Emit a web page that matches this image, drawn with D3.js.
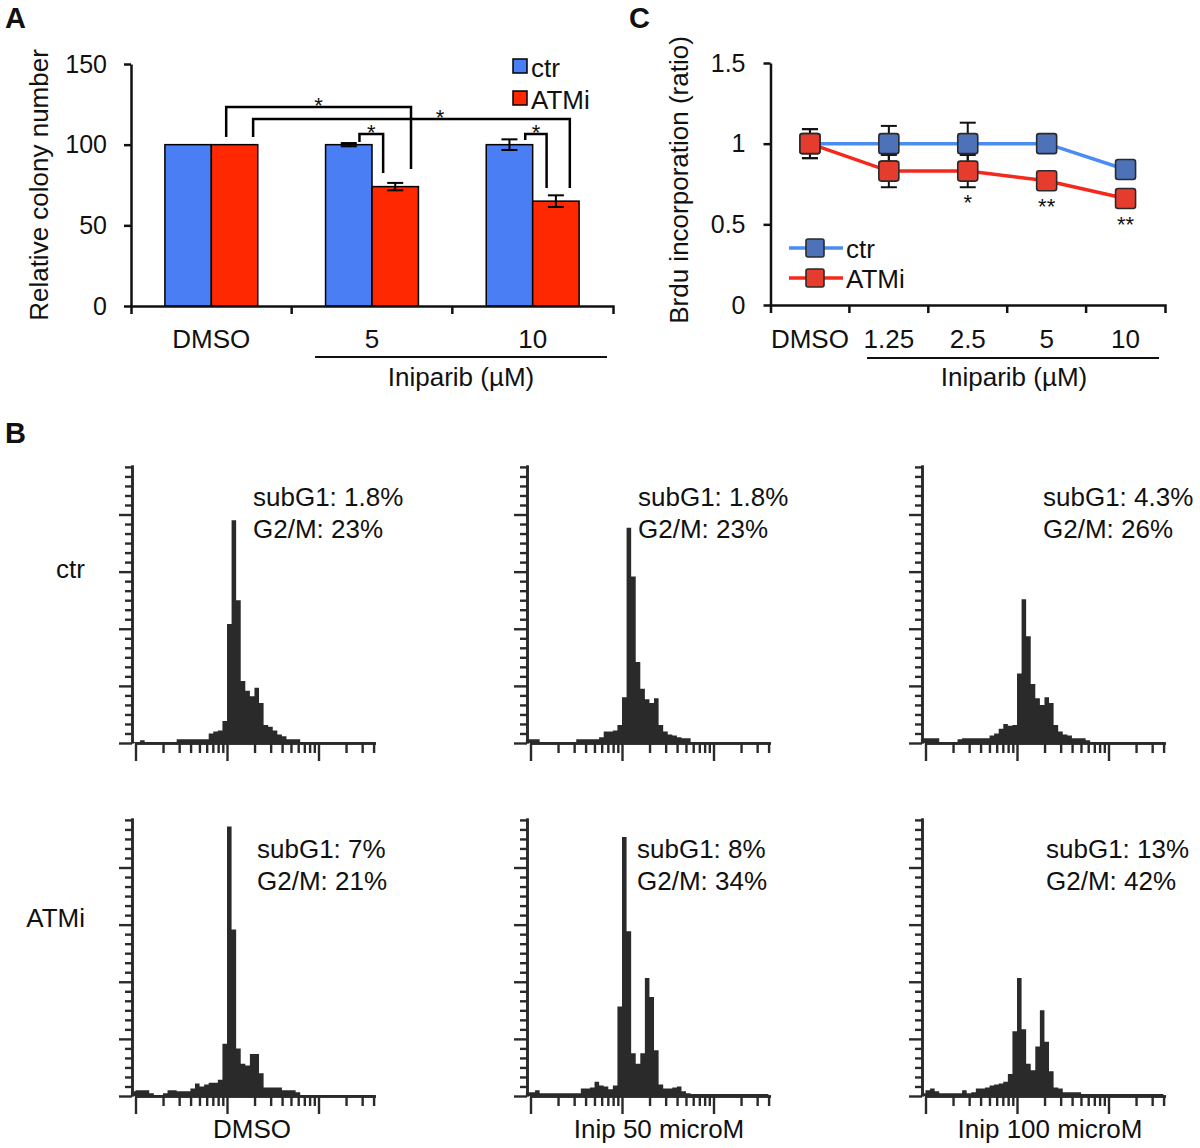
<!DOCTYPE html>
<html lang="en">
<head>
<meta charset="UTF-8">
<title>Iniparib and ATM inhibition</title>
<script src="https://cdn.jsdelivr.net/npm/d3@7"></script>
<style>
    body { margin: 0; background: #fff; }
    svg { display: block; background: #fff; }
</style>
</head>
<body>
<svg width="1200" height="1148"></svg>
<script>
    // ---- panel A: colony numbers ----
    const colonyGroups = ['DMSO', '5', '10'];
    const colonySeries = ['ctr', 'ATMi'];
    const colonyCtr = [100, 100, 100];
    const colonyCtrErr = [0, 1, 3.3];
    const colonyAtmi = [100, 74, 65];
    const colonyAtmiErr = [0, 2.3, 3.6];
    const colonyTicks = [0, 50, 100, 150];

    // ---- panel C: BrdU ----
    const brduDoses = ['DMSO', '1.25', '2.5', '5', '10'];
    const brduCtr = [1, 1, 1, 1, 0.84];
    const brduCtrErr = [0.09, 0.11, 0.13, 0.05, 0.02];
    const brduAtmi = [1, 0.83, 0.83, 0.77, 0.66];
    const brduAtmiErr = [0.09, 0.1, 0.1, 0.02, 0.02];
    const brduStars = ['', '', '*', '**', '**'];
    const brduTicks = [0, 0.5, 1, 1.5];

    // ---- panel B: cell cycle histograms ----
    const cycleRows = ['ctr', 'ATMi'];
    const cycleCols = ['DMSO', 'Inip 50 microM', 'Inip 100 microM'];
    const subG1 = [['1.8%', '1.8%', '4.3%'], ['7%', '8%', '13%']];
    const g2m = [['23%', '23%', '26%'], ['21%', '34%', '42%']];
    // counts per bin; bins are 0.05 decade wide, first bin starts at 10^-0.05
    const histCtrDmso = [1,1,3,1,1,1,1,1,1,1, 4,4,4,4,4,4,4,10,12,13, 23,125,234,150,65,55,49,58,42,19, 17,13,9,7,4,4,4,1,1,1, 1,1,1,1,1,1,1,1,1,1, 1,1,1];
    const histCtrInip50 = [4,4,4,1,1,1,1,1,1,1, 1,4,4,4,4,4,6,12,12,13, 19,48,226,175,85,57,46,42,47,19, 12,9,8,6,5,5,1,1,1,1, 1,1,1,1,1,1,1,1,1,1, 1,1,1];
    const histCtrInip100 = [5,5,5,5,1,1,1,1,4,5, 5,5,5,5,5,8,10,15,20,18, 19,73,151,112,62,47,40,48,42,19, 12,9,8,5,5,5,3,1,1,1, 1,1,1,1,1,1,1,1,1,1, 1,1,1];
    const histAtmiDmso = [5,6,6,6,3,1,1,3,6,6, 5,5,5,8,13,10,12,14,14,17, 55,283,175,50,34,32,44,44,24,9, 9,9,9,6,6,6,4,1,1,1, 1,1,1,1,1,1,1,1,1,1, 1,1,1];
    const histAtmiInip50 = [4,4,6,3,3,3,3,3,3,3, 3,3,8,8,9,15,11,10,7,11, 94,272,173,45,34,45,124,104,48,12, 8,8,9,10,5,3,2,2,2,2, 2,2,2,2,2,2,2,2,2,2, 2,2,2];
    const histAtmiInip100 = [3,6,8,5,3,3,3,3,3,6, 3,4,8,8,9,11,12,13,15,23, 68,124,70,34,27,52,90,57,26,9, 8,4,4,4,4,2,2,2,2,2, 2,2,2,2,2,2,2,2,2,2, 2,2,2];
    const binStart = -0.05;
    const binWidth = 0.05;

    const FONT = "'Liberation Sans', Arial, Helvetica, sans-serif";
    const INK = '#111';
    const svg = d3.select('svg').attr('font-family', FONT);

    function styleAxis(g, size) {
        g.attr('font-family', null).attr('font-size', null);
        g.select('.domain').attr('stroke', INK).attr('stroke-width', 2.5);
        g.selectAll('.tick line').attr('stroke', INK).attr('stroke-width', 2.5);
        g.selectAll('.tick text').attr('fill', INK).attr('font-size', size);
    }

    function text(g, x, y, str, size, anchor, weight) {
        return g.append('text')
            .attr('x', x).attr('y', y)
            .attr('font-size', size)
            .attr('text-anchor', anchor || 'start')
            .attr('font-weight', weight || 'normal')
            .attr('fill', INK)
            .text(str);
    }

    // panel letters
    text(svg, 5, 28, 'A', 29, 'start', 'bold');
    text(svg, 5, 443, 'B', 29, 'start', 'bold');
    text(svg, 629, 28, 'C', 29, 'start', 'bold');

    // ================= A =================
    const gA = svg.append('g');
    const aX = d3.scaleBand().domain(colonyGroups).range([131, 613]);
    const aSub = d3.scaleBand().domain(colonySeries).range([0, aX.bandwidth()]).paddingOuter(0.73);
    const aY = d3.scaleLinear().domain([0, 150]).range([306, 64]);
    const colonyColor = { ctr: '#4a7ef4', ATMi: '#ff2800' };

    const colonyRows = colonyGroups.map((g, i) => [
        { g: g, s: 'ctr', v: colonyCtr[i], e: colonyCtrErr[i] },
        { g: g, s: 'ATMi', v: colonyAtmi[i], e: colonyAtmiErr[i] }
    ]).flat();

    gA.selectAll('rect.bar')
        .data(colonyRows).enter().append('rect')
        .classed('bar', true)
        .attr('x', d => aX(d.g) + aSub(d.s))
        .attr('y', d => aY(d.v))
        .attr('width', aSub.bandwidth())
        .attr('height', d => aY(0) - aY(d.v))
        .attr('fill', d => colonyColor[d.s])
        .attr('stroke', '#000')
        .attr('stroke-width', 1.5);

    const errA = gA.selectAll('g.err')
        .data(colonyRows.filter(d => d.e > 0)).enter().append('g')
        .attr('stroke', '#000').attr('stroke-width', 2);
    errA.append('line')
        .attr('x1', d => aX(d.g) + aSub(d.s) + aSub.bandwidth() / 2)
        .attr('x2', d => aX(d.g) + aSub(d.s) + aSub.bandwidth() / 2)
        .attr('y1', d => aY(d.v - d.e)).attr('y2', d => aY(d.v + d.e));
    [-1, 1].forEach(sign => {
        errA.append('line')
            .attr('x1', d => aX(d.g) + aSub(d.s) + aSub.bandwidth() / 2 - 8)
            .attr('x2', d => aX(d.g) + aSub(d.s) + aSub.bandwidth() / 2 + 8)
            .attr('y1', d => aY(d.v + sign * d.e)).attr('y2', d => aY(d.v + sign * d.e));
    });

    const aYAxis = gA.append('g').attr('transform', 'translate(131,0)')
        .call(d3.axisLeft(aY).tickValues(colonyTicks).tickSize(7).tickSizeOuter(0).tickPadding(17));
    styleAxis(aYAxis, 25);

    const aXAxis = gA.append('g').attr('transform', 'translate(0,306)')
        .call(d3.axisBottom(aX).tickValues([]).tickSizeOuter(8));
    styleAxis(aXAxis, 26);
    gA.selectAll('line.sep')
        .data(colonyGroups.slice(1)).enter().append('line')
        .attr('x1', d => aX(d)).attr('x2', d => aX(d))
        .attr('y1', 306).attr('y2', 314)
        .attr('stroke', INK).attr('stroke-width', 2.5);
    gA.selectAll('text.cat')
        .data(colonyGroups).enter().append('text')
        .attr('x', d => aX(d) + aX.bandwidth() / 2)
        .attr('y', 348)
        .attr('text-anchor', 'middle')
        .attr('font-size', 26).attr('fill', INK)
        .text(d => d);

    gA.append('line').attr('x1', 315).attr('x2', 607).attr('y1', 357).attr('y2', 357)
        .attr('stroke', INK).attr('stroke-width', 2);
    text(gA, 461, 386, 'Iniparib (\u00b5M)', 26, 'middle');
    text(gA, 0, 0, 'Relative colony number', 26, 'middle')
        .attr('transform', 'translate(48,185) rotate(-90)');

    // significance brackets: [group, series, fraction across bar]
    const colonySig = [
        { a: ['DMSO', 'ATMi', 0.32], b: ['5', 'ATMi', 0.84], top: 123.4, ya: 104.8, yb: 84.9, t: 0.5 },
        { a: ['DMSO', 'ATMi', 0.9], b: ['10', 'ATMi', 0.8], top: 115.9, ya: 104.8, yb: 73.2, t: 0.59 },
        { a: ['5', 'ctr', 0.73], b: ['5', 'ATMi', 0.24], top: 106.6, ya: 101.7, yb: 82.5, t: 0.5 },
        { a: ['10', 'ctr', 0.84], b: ['10', 'ATMi', 0.3], top: 106.6, ya: 102.9, yb: 73.2, t: 0.5 }
    ];
    const bx = p => aX(p[0]) + aSub(p[1]) + aSub.bandwidth() * p[2];
    gA.selectAll('path.sig')
        .data(colonySig).enter().append('path')
        .attr('fill', 'none').attr('stroke', '#000').attr('stroke-width', 2.5)
        .attr('d', d => `M${bx(d.a)},${aY(d.ya)}V${aY(d.top)}H${bx(d.b)}V${aY(d.yb)}`);
    gA.selectAll('text.star')
        .data(colonySig).enter().append('text')
        .attr('x', d => bx(d.a) + (bx(d.b) - bx(d.a)) * d.t)
        .attr('y', d => aY(d.top) + 6)
        .attr('text-anchor', 'middle')
        .attr('font-size', 22).attr('fill', INK)
        .text('*');

    // legend A
    colonySeries.forEach((s, i) => {
        gA.append('rect').attr('x', 513).attr('y', 59 + i * 32).attr('width', 14).attr('height', 14)
            .attr('fill', colonyColor[s]).attr('stroke', '#000').attr('stroke-width', 1.5);
        text(gA, 531, 77 + i * 32, s, 26);
    });

    // ================= C =================
    const gC = svg.append('g');
    const cX = d3.scaleBand().domain(brduDoses).range([770.5, 1165]);
    const cY = d3.scaleLinear().domain([0, 1.5]).range([305, 63]);
    const cx = i => cX(brduDoses[i]) + cX.bandwidth() / 2;
    const brduSeries = [
        { name: 'ctr', v: brduCtr, e: brduCtrErr, line: '#4a8cf2', fill: '#4e72b8' },
        { name: 'ATMi', v: brduAtmi, e: brduAtmiErr, line: '#f5281c', fill: '#e63c2e' }
    ];

    const cYAxis = gC.append('g').attr('transform', 'translate(770.5,0)')
        .call(d3.axisLeft(cY).tickValues(brduTicks).tickSize(7).tickSizeOuter(0).tickPadding(18)
            .tickFormat(d => String(d)));
    styleAxis(cYAxis, 25);
    const cXAxis = gC.append('g').attr('transform', 'translate(0,305)')
        .call(d3.axisBottom(cX).tickValues([]).tickSizeOuter(8));
    styleAxis(cXAxis, 26);
    gC.selectAll('line.sep')
        .data(brduDoses.slice(1)).enter().append('line')
        .attr('x1', d => cX(d)).attr('x2', d => cX(d))
        .attr('y1', 305).attr('y2', 313)
        .attr('stroke', INK).attr('stroke-width', 2.5);
    gC.selectAll('text.cat')
        .data(brduDoses).enter().append('text')
        .attr('x', d => cX(d) + cX.bandwidth() / 2)
        .attr('y', 348)
        .attr('text-anchor', 'middle')
        .attr('font-size', 26).attr('fill', INK)
        .text(d => d);
    gC.append('line').attr('x1', 867).attr('x2', 1159).attr('y1', 358).attr('y2', 358)
        .attr('stroke', INK).attr('stroke-width', 2);
    text(gC, 1014, 386, 'Iniparib (\u00b5M)', 26, 'middle');
    text(gC, 0, 0, 'Brdu incorporation (ratio)', 26, 'middle')
        .attr('transform', 'translate(688,180) rotate(-90)');

    const cLine = d3.line().x((d, i) => cx(i)).y(d => cY(d));
    brduSeries.forEach(s => {
        gC.append('path').datum(s.v).attr('d', cLine)
            .attr('fill', 'none').attr('stroke', s.line).attr('stroke-width', 3.5);
    });
    brduSeries.forEach(s => {
        const eg = gC.append('g').attr('stroke', '#111').attr('stroke-width', 2);
        s.v.forEach((v, i) => {
            eg.append('line').attr('x1', cx(i)).attr('x2', cx(i))
                .attr('y1', cY(v - s.e[i])).attr('y2', cY(v + s.e[i]));
            [-1, 1].forEach(sign => {
                eg.append('line').attr('x1', cx(i) - 8).attr('x2', cx(i) + 8)
                    .attr('y1', cY(v + sign * s.e[i])).attr('y2', cY(v + sign * s.e[i]));
            });
        });
    });
    brduSeries.forEach(s => {
        gC.selectAll(null).data(s.v).enter().append('rect')
            .attr('x', (d, i) => cx(i) - 10).attr('y', d => cY(d) - 10)
            .attr('width', 20).attr('height', 20).attr('rx', 2.5)
            .attr('fill', s.fill).attr('stroke', '#2a2a2a').attr('stroke-width', 1.6);
    });
    gC.selectAll('text.star')
        .data(brduStars).enter().append('text')
        .attr('x', (d, i) => cx(i))
        .attr('y', (d, i) => Math.max(cY(brduAtmi[i]) + 10, cY(brduAtmi[i] - brduAtmiErr[i])) + 23)
        .attr('text-anchor', 'middle')
        .attr('font-size', 22).attr('fill', INK)
        .text(d => d);

    // legend C
    brduSeries.forEach((s, i) => {
        const ly = 248 + i * 30;
        gC.append('line').attr('x1', 789).attr('x2', 843).attr('y1', ly).attr('y2', ly)
            .attr('stroke', s.line).attr('stroke-width', 3.5);
        gC.append('rect').attr('x', 806).attr('y', ly - 9).attr('width', 18).attr('height', 18).attr('rx', 2)
            .attr('fill', s.fill).attr('stroke', '#2a2a2a').attr('stroke-width', 1.6);
        text(gC, 846, ly + 10, s.name, 26);
    });

    // ================= B =================
    const gB = svg.append('g');
    const histGrid = [
        [histCtrDmso, histCtrInip50, histCtrInip100],
        [histAtmiDmso, histAtmiInip50, histAtmiInip100]
    ];
    const histColX = [132, 527, 922];
    const histRowBase = [743, 1096];
    const annoX = [[253, 638, 1043], [257, 637, 1046]];
    const annoY = [[506, 538], [858, 890]];
    const colLabelX = [252, 659, 1050];
    const rowLabelY = [578, 927];
    const decadePx = 91.5;
    const histH = 278;

    const minorY = d3.range(10, 291, 10).filter(v => v % 60 !== 0);
    const majorY = [0, 60, 120, 180, 240];
    const majorX = [1, 10, 100];
    const minorX = [2, 3, 4, 5, 6, 7, 8, 9, 20, 30, 40, 50, 60, 70, 80, 90, 200, 300, 400];

    cycleRows.forEach((rowName, r) => {
        text(gB, 85, rowLabelY[r], rowName, 26, 'end');
        cycleCols.forEach((colName, c) => {
            const ax = histColX[c];
            const base = histRowBase[r];
            const g = gB.append('g');
            const x = d3.scaleLog().domain([1, 420])
                .range([ax + 3.5, ax + 3.5 + Math.log10(420) * decadePx]);
            const y = d3.scaleLinear().domain([0, 292]).range([base, base - histH]);

            const counts = histGrid[r][c];
            const pts = counts.map((v, i) => ({ lo: Math.pow(10, binStart + i * binWidth), v: v }));
            pts.push({ lo: Math.pow(10, binStart + counts.length * binWidth), v: counts[counts.length - 1] });
            const area = d3.area()
                .x(d => x(d.lo)).y0(base).y1(d => y(d.v))
                .curve(d3.curveStepAfter);
            g.append('path').datum(pts).attr('d', area).attr('fill', '#2a2a2a');

            const yMinor = g.append('g').attr('transform', `translate(${ax},0)`)
                .call(d3.axisLeft(y).tickValues(minorY).tickSize(7).tickSizeOuter(0).tickFormat(''));
            const yMajor = g.append('g').attr('transform', `translate(${ax},0)`)
                .call(d3.axisLeft(y).tickValues(majorY).tickSize(13).tickSizeOuter(0).tickFormat(''));
            const xMinor = g.append('g').attr('transform', `translate(0,${base})`)
                .call(d3.axisBottom(x).tickValues(minorX).tickSize(10).tickSizeOuter(0).tickFormat(''));
            const xMajor = g.append('g').attr('transform', `translate(0,${base})`)
                .call(d3.axisBottom(x).tickValues(majorX).tickSize(18).tickSizeOuter(0).tickFormat(''));
            [yMinor, yMajor, xMinor, xMajor].forEach(a => {
                a.select('.domain').attr('stroke', '#2a2a2a').attr('stroke-width', 2.6);
                a.selectAll('.tick line').attr('stroke', '#2a2a2a').attr('stroke-width', 2.4);
            });

            text(g, annoX[r][c], annoY[r][0], 'subG1: ' + subG1[r][c], 26);
            text(g, annoX[r][c], annoY[r][1], 'G2/M: ' + g2m[r][c], 26);
            if (r === 1) text(g, colLabelX[c], 1138, colName, 26, 'middle');
        });
    });
</script>
</body>
</html>
